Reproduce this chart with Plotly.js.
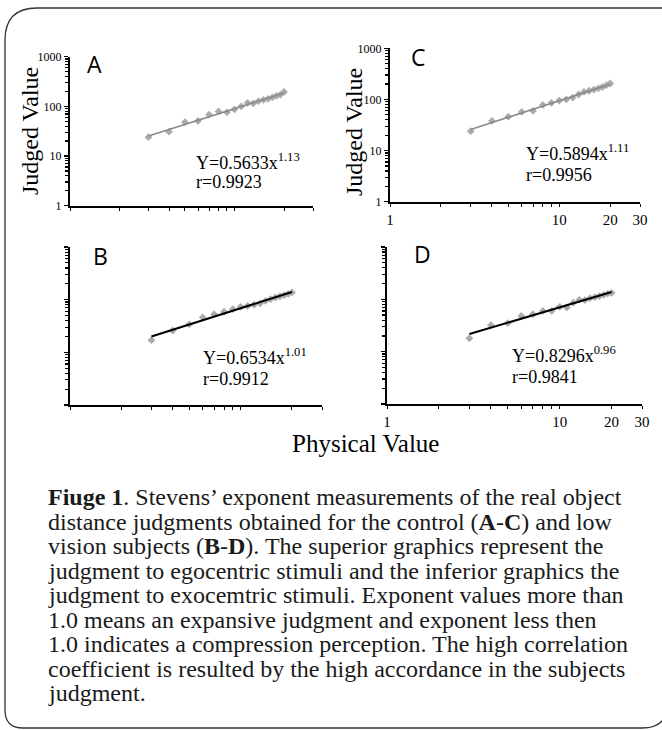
<!DOCTYPE html>
<html>
<head>
<meta charset="utf-8">
<script src="https://cdn.plot.ly/plotly-3.0.1.min.js"></script>
<style>html,body{margin:0;padding:0;background:#fff;}#chart{width:662px;height:730px;}</style>
</head>
<body>
<div id="chart"></div>
<script>
// ---- data ----
const physicalValues = [3, 4, 5, 6, 7, 8, 9, 10, 11, 12, 13, 14, 15, 16, 17, 18, 19, 20];
const judgedA = [24, 31, 48, 51, 68, 79, 76, 87, 100, 118, 115, 128, 135, 142, 152, 163, 172, 195];
const judgedB = [17, 26, 34, 46, 53, 59, 66, 73, 76, 80, 85, 95, 102, 110, 116, 122, 128, 137];
const judgedC = [24, 38, 46, 57, 60, 78, 86, 95, 100, 108, 125, 140, 148, 155, 165, 175, 190, 205];
const judgedD = [18, 32, 35, 48, 52, 60, 60, 72, 70, 86, 98, 97, 105, 110, 115, 122, 128, 133];
const panelLabels = ['A', 'B', 'C', 'D'];
const equations = ['Y=0.5633x<sup>1.13</sup>', 'Y=0.6534x<sup>1.01</sup>', 'Y=0.5894x<sup>1.11</sup>', 'Y=0.8296x<sup>0.96</sup>'];
const correlations = ['r=0.9923', 'r=0.9912', 'r=0.9956', 'r=0.9841'];
const yTickVals = [1, 10, 100, 1000];
const yTickText = ['1', '10', '100', '1000'];
const xTickVals = [1, 10, 20, 30];
const xTickText = ['1', '10', '20', '30'];
const xMinorVals = [2, 3, 4, 5, 6, 7, 8, 9];
const yTitle = 'Judged Value';
const xTitle = 'Physical Value';
const captionLines = [
  '<b>Fiuge 1</b>. Stevens’ exponent measurements of the real object',
  'distance judgments obtained for the control (<b>A</b>-<b>C</b>) and low',
  'vision subjects (<b>B</b>-<b>D</b>). The superior graphics represent the',
  'judgment to egocentric stimuli and the inferior graphics the',
  'judgment to exocemtric stimuli. Exponent values more than',
  '1.0 means an expansive judgment and exponent less then',
  '1.0 indicates a compression perception. The high correlation',
  'coefficient is resulted by the high accordance in the subjects',
  'judgment.'
];

// ---- layout helpers ----
const W = 662, H = 730;
const px = p => p / W;
const py = p => 1 - p / H;
const SERIF = 'Liberation Serif, Times New Roman, serif';

function fit(xs, ys) {
  const lx = xs.map(Math.log10), ly = ys.map(Math.log10);
  const n = lx.length;
  const mx = lx.reduce((a, b) => a + b, 0) / n, my = ly.reduce((a, b) => a + b, 0) / n;
  let sxy = 0, sxx = 0;
  for (let i = 0; i < n; i++) { sxy += (lx[i] - mx) * (ly[i] - my); sxx += (lx[i] - mx) ** 2; }
  const b = sxy / sxx, a = my - b * mx;
  const x0 = xs[0], x1 = xs[n - 1];
  return { x: [x0, x1], y: [Math.pow(10, a + b * Math.log10(x0)), Math.pow(10, a + b * Math.log10(x1))] };
}

const minorY = [];
for (let d = 1; d <= 100; d *= 10) for (let k = 2; k <= 9; k++) minorY.push(k * d);

// panel geometry in pixels: x-axis left/right, y of value 1 and value 1000
const panels = [
  { key: '', data: judgedA, lab: 0, x: [70, 313], y: [205.7, 56.7], line: '#8a8a8a', showY: true, showX: false,
    labPos: [94, 64], eqPos: [194, 161, 182], titlePos: [30, 131] },
  { key: '2', data: judgedB, lab: 1, x: [70, 322], y: [405, 247], line: '#000', showY: false, showX: false,
    labPos: [100, 256], eqPos: [201, 356, 379] },
  { key: '3', data: judgedC, lab: 2, x: [390, 640], y: [201.7, 48.3], line: '#8a8a8a', showY: true, showX: true,
    labPos: [418, 57], eqPos: [524, 153, 175], titlePos: [354, 132] },
  { key: '4', data: judgedD, lab: 3, x: [387, 642], y: [404, 247], line: '#000', showY: false, showX: true,
    labPos: [423, 254], eqPos: [510, 354, 377] }
];

const traces = [];
const layout = {
  width: W, height: H,
  margin: { l: 0, r: 0, t: 0, b: 0 },
  paper_bgcolor: '#fff', plot_bgcolor: 'rgba(0,0,0,0)',
  showlegend: false,
  font: { family: SERIF, color: '#000' },
  annotations: [],
  shapes: []
};

panels.forEach(p => {
  const xa = 'x' + p.key, ya = 'y' + p.key;
  const f = fit(physicalValues, p.data);
  traces.push({
    x: physicalValues, y: p.data, xaxis: xa, yaxis: ya, type: 'scatter', mode: 'markers',
    marker: { symbol: 'diamond', size: 6, color: '#ababab' }, hoverinfo: 'skip'
  });
  traces.push({
    x: f.x, y: f.y, xaxis: xa, yaxis: ya, type: 'scatter', mode: 'lines',
    line: { color: p.line, width: p.line === '#000' ? 2 : 1.6 }, hoverinfo: 'skip'
  });
  layout['xaxis' + p.key] = {
    type: 'log', range: [0, Math.log10(30)], domain: [px(p.x[0]), px(p.x[1])], anchor: ya,
    showline: true, linewidth: 2, linecolor: '#000', ticks: 'outside', ticklen: 3, tickwidth: 1, tickcolor: '#000',
    tickmode: 'array', tickvals: xTickVals, ticktext: xTickText,
    showticklabels: p.showX, tickfont: { family: SERIF, size: 15, color: '#000' },
    minor: { tickmode: 'array', tickvals: xMinorVals, ticks: 'outside', ticklen: 3, tickwidth: 1, tickcolor: '#000' },
    showgrid: false, zeroline: false, fixedrange: true
  };
  layout['yaxis' + p.key] = {
    type: 'log', range: [0, 3], domain: [py(p.y[0]), py(p.y[1])], anchor: xa,
    showline: true, linewidth: 2, linecolor: '#000', ticks: 'outside', ticklen: 4, tickwidth: 1.5, tickcolor: '#000',
    tickmode: 'array', tickvals: yTickVals, ticktext: yTickText, showticklabels: p.showY,
    tickfont: { family: SERIF, size: 12, color: '#000' },
    minor: { tickmode: 'array', tickvals: minorY, ticks: 'outside', ticklen: 3, tickwidth: 1.2, tickcolor: '#000' },
    showgrid: false, zeroline: false, fixedrange: true
  };
  layout.annotations.push({
    xref: 'paper', yref: 'paper', x: px(p.labPos[0]), y: py(p.labPos[1]), xanchor: 'center', yanchor: 'middle',
    text: panelLabels[p.lab], showarrow: false, font: { family: 'Open Sans, sans-serif', size: 23, color: '#000' }
  });
  layout.annotations.push({
    xref: 'paper', yref: 'paper', x: px(p.eqPos[0]), y: py(p.eqPos[1]), xanchor: 'left', yanchor: 'middle',
    text: equations[p.lab], showarrow: false, font: { family: SERIF, size: 18, color: '#000' }
  });
  layout.annotations.push({
    xref: 'paper', yref: 'paper', x: px(p.eqPos[0]), y: py(p.eqPos[2]), xanchor: 'left', yanchor: 'middle',
    text: correlations[p.lab], showarrow: false, font: { family: SERIF, size: 18, color: '#000' }
  });
  if (p.titlePos) {
    layout.annotations.push({
      xref: 'paper', yref: 'paper', x: px(p.titlePos[0]), y: py(p.titlePos[1]), xanchor: 'center', yanchor: 'middle',
      text: yTitle, textangle: -90, showarrow: false, font: { family: SERIF, size: 24, color: '#000' }
    });
  }
});

layout.annotations.push({
  xref: 'paper', yref: 'paper', x: px(365), y: py(443), xanchor: 'center', yanchor: 'middle',
  text: xTitle, showarrow: false, font: { family: SERIF, size: 25, color: '#000' }
});

captionLines.forEach((t, i) => {
  layout.annotations.push({
    xref: 'paper', yref: 'paper', x: px(46), y: py(497 + i * 24.5), xanchor: 'left', yanchor: 'middle',
    text: t, showarrow: false, font: { family: SERIF, size: 24, color: '#1a1a1a' }
  });
});

// rounded frame
const L = 5, T = 8, R = 668, B = 728, rTL = 32, rBL = 18, rBR = 26;
layout.shapes.push({
  type: 'path', xref: 'paper', yref: 'paper',
  path: `M ${px(L)},${py(T + rTL)} Q ${px(L)},${py(T)} ${px(L + rTL)},${py(T)} L ${px(R)},${py(T)} ` +
        `L ${px(R)},${py(B - rBR)} Q ${px(R)},${py(B)} ${px(R - rBR)},${py(B)} ` +
        `L ${px(L + rBL)},${py(B)} Q ${px(L)},${py(B)} ${px(L)},${py(B - rBL)} Z`,
  line: { color: '#333', width: 1.3 }, fillcolor: 'rgba(0,0,0,0)', layer: 'below'
});

Plotly.newPlot('chart', traces, layout, { staticPlot: true, displayModeBar: false });
</script>
</body>
</html>
